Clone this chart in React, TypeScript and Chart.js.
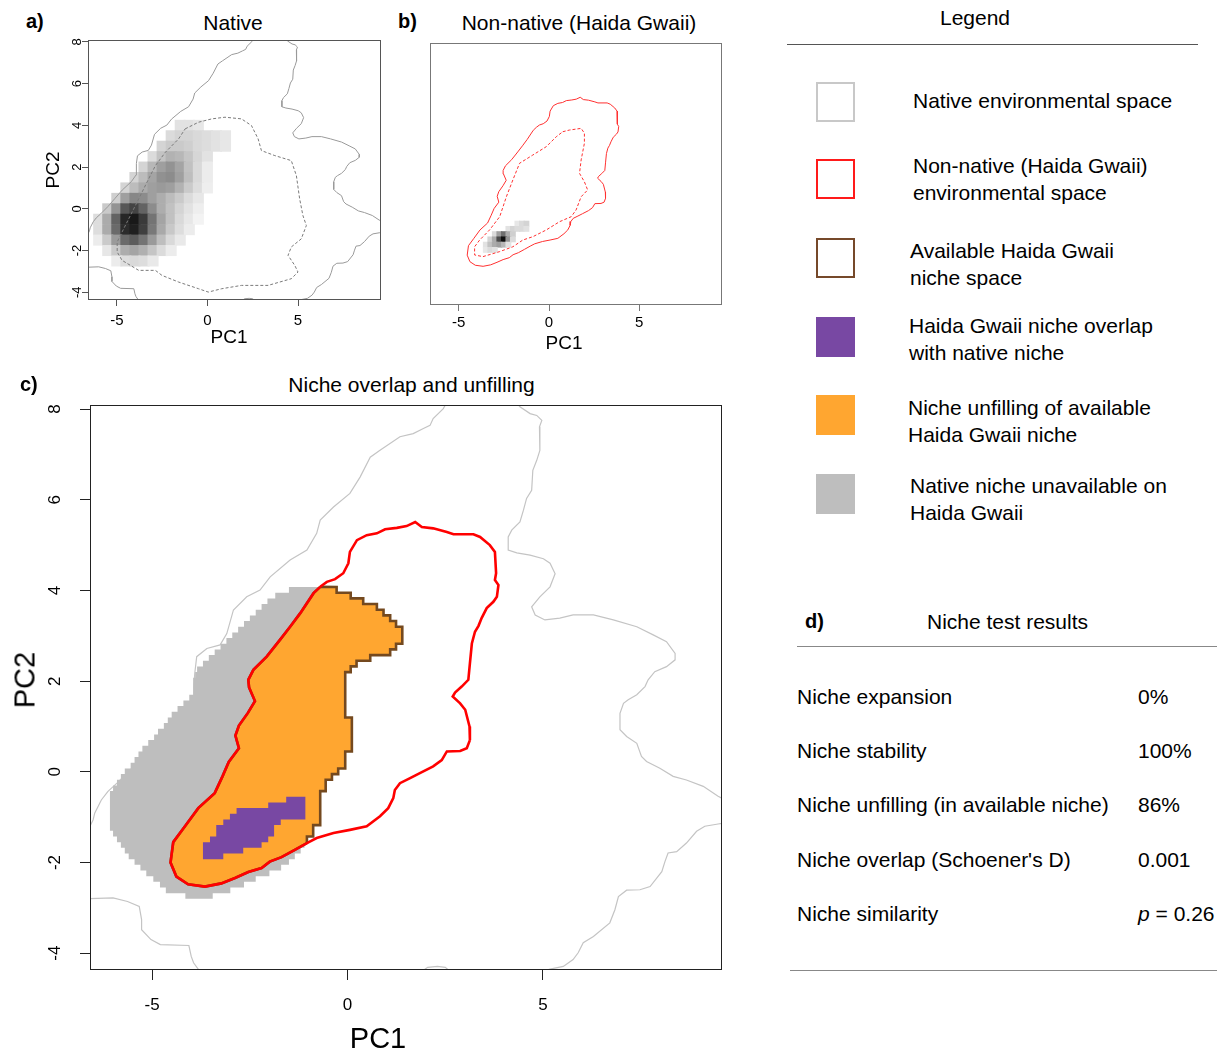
import React, { useEffect, useRef } from "react";
import { Chart, registerables } from "chart.js";

Chart.register(...registerables);

const FONT = "'Liberation Sans', Arial, Helvetica, sans-serif";

// ---------- axes ----------
const X_MIN = -6.59;
const X_MAX = 9.58;
const Y_MIN = -4.37;
const Y_MAX = 8.09;
const X_TICKS = [-5, 0, 5];
const Y_TICKS = [-4, -2, 0, 2, 4, 6, 8];

type Pt = [number, number];

// ---------- native environmental space (solid grey contour, 5 pieces) ----------
const NATIVE_ENV_A: Pt[] = [
  [-6.65, -1.3], [-6.51, -1.06], [-6.47, -0.91], [-6.3, -0.62], [-6.13, -0.43], [-5.9, -0.25],
  [-5.5, 0.1], [-5.1, 0.5], [-4.7, 0.9], [-4.2, 1.3], [-3.94, 1.62], [-3.93, 1.88], [-3.91, 2.17],
  [-3.86, 2.54], [-3.6, 2.72], [-3.26, 2.8], [-3.09, 3.05], [-2.92, 3.57], [-2.58, 3.86], [-2.24, 4.01],
  [-1.98, 4.3], [-1.47, 4.67], [-1.04, 4.89], [-0.79, 5.26], [-0.7, 5.55], [-0.36, 5.84], [0.06, 6.14],
  [0.32, 6.5], [0.58, 6.94], [0.83, 7.09], [1.34, 7.39], [1.68, 7.46], [1.94, 7.57], [2.11, 7.64],
  [2.19, 7.79], [2.45, 8.01], [2.52, 8.12],
];
const NATIVE_ENV_B: Pt[] = [
  [4.35, 8.12], [4.41, 8.05], [4.67, 7.9], [4.84, 7.86], [4.97, 7.75], [4.91, 7.61], [4.92, 7.09],
  [4.84, 6.87], [4.74, 6.65], [4.71, 6.21], [4.58, 6.03], [4.5, 5.77], [4.41, 5.51], [4.2, 5.33],
  [4.11, 5.18], [4.11, 4.89], [4.33, 4.83], [4.67, 4.78], [5.01, 4.7], [5.18, 4.6], [5.31, 4.37],
  [5.18, 4.08], [4.92, 3.86], [4.71, 3.64], [4.8, 3.46], [5.05, 3.35], [5.43, 3.39], [5.77, 3.46],
  [6.29, 3.46], [6.8, 3.35], [7.4, 3.2], [7.82, 3.02], [8.16, 2.87], [8.38, 2.61], [8.38, 2.47],
  [8.16, 2.32], [7.86, 2.21], [7.69, 2.03], [7.61, 1.88], [7.4, 1.7], [7.18, 1.59], [7.06, 1.51],
  [6.97, 1.29], [6.97, 0.93], [7.14, 0.78], [7.4, 0.63], [7.52, 0.34], [7.65, 0.23], [7.99, 0.08],
  [8.33, -0.1], [8.67, -0.18], [9.1, -0.32], [9.48, -0.54], [9.62, -0.6],
];
const NATIVE_ENV_C: Pt[] = [
  [9.62, -1.13], [9.48, -1.15], [9.14, -1.2], [8.93, -1.31], [8.67, -1.57], [8.42, -1.76], [8.2, -1.79],
  [8.12, -1.98], [8.04, -2.2], [7.74, -2.53], [7.48, -2.6], [7.14, -2.61], [6.93, -2.75], [6.84, -3.04],
  [6.71, -3.33], [6.29, -3.63], [6.03, -3.77], [5.9, -3.99], [5.77, -4.14], [5.52, -4.29], [5.18, -4.35],
  [5.0, -4.4],
];
const NATIVE_ENV_D: Pt[] = [[1.9, -4.4], [2.05, -4.31], [2.3, -4.29], [2.5, -4.31], [2.62, -4.4]];
const NATIVE_ENV_E: Pt[] = [
  [-6.65, -2.8], [-6.0, -2.78], [-5.63, -2.86], [-5.33, -2.97], [-5.27, -3.26], [-5.27, -3.48],
  [-5.03, -3.7], [-4.79, -3.81], [-4.06, -3.83], [-4.0, -4.07], [-3.94, -4.21], [-3.78, -4.4],
];
const NATIVE_ENV_PIECES = [NATIVE_ENV_A, NATIVE_ENV_B, NATIVE_ENV_C, NATIVE_ENV_D, NATIVE_ENV_E];

// ---------- native niche (dashed, panel a) ----------
const NATIVE_NICHE: Pt[] = [
  [-1.23, 3.83], [-0.49, 4.15], [0.24, 4.31], [0.97, 4.39], [1.88, 4.31], [2.43, 3.99], [2.8, 3.35],
  [2.98, 2.79], [3.72, 2.55], [4.63, 2.31], [4.91, 1.59], [5.09, 0.48], [5.27, -0.32], [5.46, -0.8],
  [5.18, -1.44], [4.63, -1.83], [4.45, -2.23], [4.82, -2.71], [5.0, -3.03], [4.63, -3.35], [3.35, -3.67],
  [1.88, -3.67], [0.79, -3.83], [0.05, -3.99], [-0.49, -3.83], [-1.59, -3.51], [-2.51, -3.19],
  [-2.87, -2.95], [-3.79, -2.95], [-4.25, -2.71], [-4.71, -2.47], [-4.98, -2.07], [-4.98, -1.59],
  [-4.71, -1.11], [-4.25, -0.32], [-3.79, 0.48], [-3.24, 1.44], [-2.87, 2.07], [-2.32, 2.71],
  [-1.59, 3.35], [-1.23, 3.83],
];

// ---------- non-native (Haida Gwaii) environmental space ----------
const NONNATIVE_ENV: Pt[] = [
  [-0.7, 4.08], [-0.53, 4.19], [-0.32, 4.25], [-0.11, 4.38], [0.02, 4.6], [0.06, 4.85], [0.24, 5.11],
  [0.49, 5.22], [0.75, 5.26], [0.96, 5.35], [1.26, 5.38], [1.51, 5.42], [1.73, 5.51], [1.9, 5.4],
  [2.19, 5.37], [2.54, 5.29], [2.71, 5.24], [3.22, 5.24], [3.39, 5.18], [3.64, 5.0], [3.77, 4.85],
  [3.8, 4.38], [3.77, 4.23], [3.86, 4.12], [3.82, 3.86], [3.73, 3.75], [3.56, 3.61], [3.43, 3.39],
  [3.35, 3.22], [3.26, 3.09], [3.18, 2.83], [3.13, 2.39], [3.09, 2.03], [2.92, 1.88], [2.75, 1.75],
  [2.69, 1.66], [2.88, 1.51], [3.01, 1.37], [3.12, 1.0], [3.13, 0.7], [3.05, 0.52], [2.88, 0.46],
  [2.54, 0.45], [2.41, 0.26], [2.19, 0.12], [1.85, -0.03], [1.6, -0.14], [1.34, -0.25], [1.21, -0.4],
  [1.17, -0.58], [1.04, -0.8], [0.83, -0.98], [0.49, -1.2], [0.06, -1.28], [-0.36, -1.35],
  [-0.79, -1.46], [-1.04, -1.57], [-1.35, -1.72], [-1.69, -1.88], [-1.99, -1.98], [-2.2, -2.12],
  [-2.54, -2.21], [-2.88, -2.34], [-3.23, -2.46], [-3.65, -2.53], [-4.08, -2.48], [-4.38, -2.31],
  [-4.53, -2.0], [-4.46, -1.55], [-4.16, -1.2], [-3.82, -0.8], [-3.4, -0.47], [-3.2, -0.1],
  [-3.04, 0.22], [-2.78, 0.52], [-2.87, 0.8], [-2.78, 1.02], [-2.55, 1.3], [-2.37, 1.56],
  [-2.52, 1.86], [-2.54, 2.03], [-2.41, 2.25], [-2.07, 2.54], [-1.73, 2.91], [-1.47, 3.2],
  [-1.21, 3.5], [-0.87, 3.94],
];
const NONNATIVE_NICHE: Pt[] = [
  [0.76, 3.87], [1.13, 3.95], [1.78, 4.03], [1.96, 3.8], [1.96, 3.32], [1.78, 2.53], [1.69, 1.89],
  [1.96, 1.49], [2.14, 1.1], [1.78, 0.78], [1.5, 0.15], [1.23, -0.17], [0.58, -0.41], [-0.15, -0.8],
  [-0.89, -1.12], [-1.45, -1.28], [-2.0, -1.6], [-2.73, -1.83], [-3.66, -2.07], [-4.12, -1.99],
  [-4.12, -1.6], [-3.84, -1.28], [-3.29, -0.8], [-2.73, -0.17], [-2.36, 0.78], [-2.0, 1.58],
  [-1.63, 2.37], [-0.9, 2.76], [-0.15, 3.16], [0.4, 3.63], [0.76, 3.87],
];

// ---------- raster rows of panel c (row j spans ROW_Y0 + j*ROW_DY .. +ROW_DY) ----------
const ROW_Y0 = -2.8;
const ROW_DY = 0.125;
// native niche unavailable (grey), rows 0..54
const GREY_LEFT = [
  -4.15, -4.65, -4.8, -4.97, -5.15, -5.3, -5.45, -5.6, -5.7, -5.8, -5.9, -6.0,
  -6.08, -6.08, -6.08, -6.08, -6.08, -6.08, -6.08,
  -6.0, -5.9, -5.8, -5.7, -5.55, -5.45, -5.35, -5.25, -5.1, -4.95,
  -4.85, -4.7, -4.6, -4.5, -4.35, -4.2, -4.05, -3.95, -3.95, -3.95,
  -3.9, -3.85, -3.7, -3.55, -3.4, -3.25, -3.1, -2.95, -2.8, -2.65,
  -2.5, -2.35, -2.2, -2.05, -1.85, -1.5,
];
const GREY_RIGHT_LOW = [-3.45, -3.0, -2.65, -2.35, -2.0, -1.7, -1.5, -1.35, -1.2, -1.1];
// available niche (orange), right edge of rows 10..54
const ORANGE_FIRST_ROW = 10;
const ORANGE_RIGHT = [
  -1.04, -0.88, -0.88, -0.7, -0.7, -0.7, -0.7, -0.7, -0.7, -0.56, -0.56, -0.4, -0.24,
  -0.06, -0.06, -0.06, 0.11, 0.11, 0.11, 0.11, 0.11, 0.11,
  -0.06, -0.06, -0.06, -0.06, -0.06, -0.06, -0.06, -0.06,
  0.08, 0.23, 0.58, 1.09, 1.24, 1.4, 1.4, 1.4, 1.24, 1.09, 0.92, 0.75, 0.4, 0.08, -0.28,
];
const GREY_RIGHT = [...GREY_RIGHT_LOW, ...ORANGE_RIGHT];
// overlap (purple), rows 7..17
const PURPLE_FIRST_ROW = 7;
const PURPLE_LEFT = [-3.7, -3.7, -3.7, -3.52, -3.36, -3.36, -3.18, -3.01, -2.84, -2.03, -1.57];
const PURPLE_RIGHT = [-3.18, -2.67, -2.2, -2.03, -1.88, -1.88, -1.71, -1.08, -1.08, -1.08, -1.08];

// ---------- occurrence density, panel a (darkness 0-100) ----------
const DENS_A_X = [-6, -5.5, -5, -4.5, -4, -3.5, -3, -2.5, -2, -1.5, -1, -0.5, 0, 0.5, 1, 1.5];
const DENS_A_Y = [4, 3.5, 3, 2.5, 2, 1.5, 1, 0.5, 0, -0.5, -1, -1.5, -2, -2.5];
const DENS_A = [
  [0, 0, 0, 0, 0, 0, 0, 0, 0, 12, 12, 10, 0, 0, 0, 0],
  [0, 0, 0, 0, 0, 0, 0, 0, 15, 18, 18, 16, 14, 12, 10, 0],
  [0, 0, 0, 0, 0, 0, 0, 18, 22, 22, 20, 16, 14, 12, 10, 0],
  [0, 0, 0, 0, 0, 0, 15, 25, 32, 30, 24, 17, 12, 0, 0, 0],
  [0, 0, 0, 0, 0, 18, 30, 40, 45, 38, 26, 16, 8, 0, 0, 0],
  [0, 0, 0, 0, 18, 28, 38, 46, 48, 40, 27, 16, 8, 0, 0, 0],
  [0, 0, 0, 18, 28, 35, 40, 42, 40, 32, 22, 14, 7, 0, 0, 0],
  [0, 0, 20, 40, 50, 48, 40, 34, 28, 22, 15, 10, 0, 0, 0, 0],
  [0, 22, 45, 70, 78, 65, 48, 34, 26, 18, 12, 7, 0, 0, 0, 0],
  [14, 35, 65, 90, 96, 82, 58, 38, 26, 16, 10, 5, 0, 0, 0, 0],
  [14, 35, 62, 88, 93, 80, 56, 36, 23, 14, 8, 0, 0, 0, 0, 0],
  [8, 22, 42, 62, 68, 58, 42, 27, 16, 9, 0, 0, 0, 0, 0, 0],
  [0, 10, 22, 34, 38, 33, 24, 15, 8, 0, 0, 0, 0, 0, 0, 0],
  [0, 0, 8, 14, 16, 14, 9, 0, 0, 0, 0, 0, 0, 0, 0, 0],
];
const DENS_A_STEP = 0.5;

// ---------- occurrence density, panel b: [x, y, darkness] ----------
const DENS_B: [number, number, number][] = [
  [-1.75, -0.5, 10], [-1.5, -0.5, 15], [-1.25, -0.5, 18],
  [-2.25, -0.75, 12], [-2.0, -0.75, 18], [-1.75, -0.75, 15], [-1.5, -0.75, 15], [-1.25, -0.75, 12],
  [-3.0, -1.0, 15], [-2.75, -1.0, 40], [-2.5, -1.0, 60], [-2.25, -1.0, 35], [-2.0, -1.0, 20],
  [-3.25, -1.25, 18], [-3.0, -1.25, 35], [-2.75, -1.25, 75], [-2.5, -1.25, 100], [-2.25, -1.25, 45], [-2.0, -1.25, 15],
  [-3.5, -1.5, 12], [-3.25, -1.5, 25], [-3.0, -1.5, 35], [-2.75, -1.5, 40], [-2.5, -1.5, 30], [-2.25, -1.5, 12],
  [-3.5, -1.75, 10], [-3.25, -1.75, 15], [-3.0, -1.75, 12],
];
const DENS_B_STEP = 0.25;

// ---------- legend & results ----------
const LEGEND_ITEMS = [
  { lines: ["Native environmental space"], kind: "outline", color: "#c8c8c8" },
  { lines: ["Non-native (Haida Gwaii)", "environmental space"], kind: "outline", color: "#ff1a1a" },
  { lines: ["Available Haida Gwaii", "niche space"], kind: "outline", color: "#76492a" },
  { lines: ["Haida Gwaii niche overlap", "with native niche"], kind: "fill", color: "#7848a3" },
  { lines: ["Niche unfilling of available", "Haida Gwaii niche"], kind: "fill", color: "#ffa630" },
  { lines: ["Native niche unavailable on", "Haida Gwaii"], kind: "fill", color: "#bebebe" },
];
const RESULT_LABELS = [
  "Niche expansion",
  "Niche stability",
  "Niche unfilling (in available niche)",
  "Niche overlap (Schoener's D)",
  "Niche similarity",
];
const RESULT_VALUES = ["0%", "100%", "86%", "0.001", "0.26"];

// ---------- helpers ----------
const toXY = (arr: Pt[]) => arr.map(([x, y]) => ({ x, y }));
const rowY = (j: number) => ROW_Y0 + j * ROW_DY;

function stepPolygon(first: number, left: number[], right: number[]) {
  const n = left.length;
  const pts: { x: number; y: number }[] = [];
  for (let k = n - 1; k >= 0; k--) {
    pts.push({ x: right[k], y: rowY(first + k + 1) });
    pts.push({ x: right[k], y: rowY(first + k) });
  }
  for (let k = 0; k < n; k++) {
    pts.push({ x: left[k], y: rowY(first + k) });
    pts.push({ x: left[k], y: rowY(first + k + 1) });
  }
  pts.push(pts[0]);
  return pts;
}

function orangePolygon() {
  const n = ORANGE_RIGHT.length;
  const pts: { x: number; y: number }[] = [{ x: NONNATIVE_ENV[0][0], y: NONNATIVE_ENV[0][1] }];
  for (let k = n - 1; k >= 0; k--) {
    pts.push({ x: ORANGE_RIGHT[k], y: rowY(ORANGE_FIRST_ROW + k + 1) });
    pts.push({ x: ORANGE_RIGHT[k], y: rowY(ORANGE_FIRST_ROW + k) });
  }
  const join = NONNATIVE_ENV.findIndex(([, y]) => y <= rowY(ORANGE_FIRST_ROW));
  for (let i = join; i < NONNATIVE_ENV.length; i++) pts.push({ x: NONNATIVE_ENV[i][0], y: NONNATIVE_ENV[i][1] });
  pts.push(pts[0]);
  return pts;
}

const shade = (v: number) => {
  const g = Math.round(255 - v * 2.4);
  return `rgb(${g},${g},${g})`;
};

const lineDs = (data: any[], color: string, width: number, order: number, dash: number[] = []) => ({
  data,
  showLine: true,
  borderColor: color,
  borderWidth: width,
  borderDash: dash,
  pointRadius: 0,
  pointHoverRadius: 0,
  fill: false,
  tension: 0,
  order,
});

const polyDs = (data: any[], fillColor: string, border: string, width: number, order: number) => ({
  data,
  showLine: true,
  backgroundColor: fillColor,
  borderColor: border,
  borderWidth: width,
  pointRadius: 0,
  pointHoverRadius: 0,
  fill: "shape",
  tension: 0,
  order,
});

const cellDs = (cells: { x: number; y: number; v: number }[], step: number, order: number) => ({
  data: cells,
  showLine: false,
  pointStyle: "rect",
  pointBorderWidth: 0,
  pointBorderColor: "rgba(0,0,0,0)",
  pointHoverRadius: 0,
  pointRadius: (c: any) => {
    const s = c.chart.scales;
    if (!s || !s.x || !s.y) return 3;
    const w = Math.abs(s.x.getPixelForValue(step) - s.x.getPixelForValue(0));
    const h = Math.abs(s.y.getPixelForValue(step) - s.y.getPixelForValue(0));
    return (Math.max(w, h) + 0.6) / Math.SQRT2;
  },
  pointBackgroundColor: (c: any) => (c.raw ? shade(c.raw.v) : "#fff"),
  order,
});

function densACells() {
  const out: { x: number; y: number; v: number }[] = [];
  DENS_A.forEach((row, r) =>
    row.forEach((v, c) => {
      if (v > 0) out.push({ x: DENS_A_X[c], y: DENS_A_Y[r], v });
    })
  );
  return out;
}

// ---------- panel ----------
interface Spec {
  box: { l: number; t: number; r: number; b: number };
  yw: number;
  xh: number;
  tickLen: number;
  xTickFont: number;
  xTickPad: number;
  yTickFont?: number;
  yLabelOffset?: number;
  frameColor: string;
  datasets: () => any[];
}

const PAD = 6;

function Panel({ spec }: { spec: Spec }) {
  const ref = useRef<HTMLCanvasElement | null>(null);
  const { box, yw, xh } = spec;
  const cl = box.l - (yw > 0 ? yw : PAD);
  const ct = box.t - PAD;
  const cw = box.r - cl + PAD;
  const ch = box.b - ct + xh;

  useEffect(() => {
    const canvas = ref.current;
    if (!canvas) return;
    const frame = {
      id: "rframe",
      afterDatasetsDraw(chart: any) {
        const { ctx, chartArea: a } = chart;
        ctx.save();
        ctx.strokeStyle = spec.frameColor;
        ctx.lineWidth = 1;
        const l = Math.round(a.left) + 0.5;
        const t = Math.round(a.top) + 0.5;
        ctx.strokeRect(l, t, Math.round(a.right) - Math.round(a.left) - 1, Math.round(a.bottom) - Math.round(a.top) - 1);
        ctx.restore();
      },
      afterDraw(chart: any) {
        if (!spec.yTickFont) return;
        const ys = chart.scales.y;
        const a = chart.chartArea;
        const ctx = chart.ctx;
        ctx.save();
        ctx.fillStyle = "#000";
        ctx.font = `${spec.yTickFont}px ${FONT}`;
        ctx.textAlign = "center";
        ctx.textBaseline = "middle";
        for (const t of ys.ticks) {
          const py = ys.getPixelForValue(t.value);
          ctx.save();
          ctx.translate(a.left - (spec.yLabelOffset || 10), py);
          ctx.rotate(-Math.PI / 2);
          ctx.fillText(String(t.value), 0, 0);
          ctx.restore();
        }
        ctx.restore();
      },
    };
    const chart = new Chart(canvas, {
      type: "scatter",
      data: { datasets: spec.datasets() },
      options: {
        responsive: false,
        animation: false,
        events: [],
        layout: { padding: { left: yw > 0 ? 0 : PAD, top: PAD, right: PAD, bottom: 0 } },
        plugins: { legend: { display: false }, tooltip: { enabled: false }, title: { display: false } },
        scales: {
          x: {
            type: "linear",
            min: X_MIN,
            max: X_MAX,
            afterBuildTicks: (s: any) => {
              s.ticks = X_TICKS.map((value) => ({ value }));
            },
            afterFit: (s: any) => {
              s.height = xh;
            },
            grid: { display: true, drawOnChartArea: false, drawTicks: true, tickLength: spec.tickLen, color: spec.frameColor },
            border: { display: false },
            ticks: { font: { family: FONT, size: spec.xTickFont }, color: "#000", padding: spec.xTickPad, maxRotation: 0, autoSkip: false },
          },
          y: {
            type: "linear",
            display: yw > 0,
            min: Y_MIN,
            max: Y_MAX,
            afterBuildTicks: (s: any) => {
              s.ticks = Y_TICKS.map((value) => ({ value }));
            },
            afterFit: (s: any) => {
              s.width = yw;
            },
            grid: { display: true, drawOnChartArea: false, drawTicks: true, tickLength: spec.tickLen, color: spec.frameColor },
            border: { display: false },
            ticks: { display: false },
          },
        },
      } as any,
      plugins: [frame],
    } as any);
    return () => chart.destroy();
  }, []);

  return <canvas ref={ref} width={cw} height={ch} style={{ position: "absolute", left: cl, top: ct, width: cw, height: ch }} />;
}

const specA: Spec = {
  box: { l: 88, t: 40, r: 381, b: 300 },
  yw: 45,
  xh: 45,
  tickLen: 6,
  xTickFont: 15,
  xTickPad: 6,
  yTickFont: 13,
  yLabelOffset: 11,
  frameColor: "#555",
  datasets: () => [
    lineDs(toXY(NATIVE_NICHE), "#7a7a7a", 1, 0, [3, 2]),
    ...NATIVE_ENV_PIECES.map((p) => lineDs(toXY(p), "#9a9a9a", 1, 1)),
    cellDs(densACells(), DENS_A_STEP, 3),
  ],
};

const specB: Spec = {
  box: { l: 430, t: 43, r: 722, b: 305 },
  yw: 0,
  xh: 45,
  tickLen: 6,
  xTickFont: 15,
  xTickPad: 3,
  frameColor: "#777",
  datasets: () => [
    lineDs(toXY(NONNATIVE_ENV).concat([{ x: NONNATIVE_ENV[0][0], y: NONNATIVE_ENV[0][1] }]), "#ff3030", 1, 0),
    lineDs(toXY(NONNATIVE_NICHE), "#ff3030", 1, 0, [3, 2]),
    cellDs(DENS_B.map(([x, y, v]) => ({ x, y, v })), DENS_B_STEP, 3),
  ],
};

const specC: Spec = {
  box: { l: 90, t: 405, r: 722, b: 970 },
  yw: 70,
  xh: 60,
  tickLen: 10,
  xTickFont: 17,
  xTickPad: 15,
  yTickFont: 17,
  yLabelOffset: 35,
  frameColor: "#222",
  datasets: () => [
    lineDs(toXY(NONNATIVE_ENV).concat([{ x: NONNATIVE_ENV[0][0], y: NONNATIVE_ENV[0][1] }]), "#ff0000", 2.6, 0),
    polyDs(stepPolygon(PURPLE_FIRST_ROW, PURPLE_LEFT, PURPLE_RIGHT), "#7848a3", "rgba(0,0,0,0)", 0.01, 1),
    polyDs(orangePolygon(), "#ffa630", "#74491f", 2.6, 2),
    polyDs(stepPolygon(0, GREY_LEFT, GREY_RIGHT), "#bebebe", "rgba(0,0,0,0)", 0.01, 3),
    ...NATIVE_ENV_PIECES.map((p) => lineDs(toXY(p), "#c4c4c4", 1.2, 4)),
  ],
};

// ---------- text helpers (y = cap top) ----------
function T({ x, y, s, b, c, children }: any) {
  return (
    <div
      style={{
        position: "absolute",
        left: x,
        top: y - 0.13 * s,
        fontSize: s,
        lineHeight: 1,
        fontWeight: b ? "bold" : "normal",
        whiteSpace: "nowrap",
        transform: c ? "translateX(-50%)" : undefined,
      }}
    >
      {children}
    </div>
  );
}

function R({ cx, cy, s, children }: any) {
  return (
    <div
      style={{
        position: "absolute",
        left: cx,
        top: cy,
        fontSize: s,
        lineHeight: 1,
        whiteSpace: "nowrap",
        transform: "translate(-50%,-50%) rotate(-90deg)",
      }}
    >
      {children}
    </div>
  );
}

function HLine({ x, y, w, color }: any) {
  return <div style={{ position: "absolute", left: x, top: y, width: w, height: 1, background: color }} />;
}

const LEGEND_BOX_TOPS = [82, 159, 238, 317, 395, 474];
const LEGEND_TEXT_TOPS = [93, 158, 243, 318, 400, 478];
const LEGEND_TEXT_X = [913, 913, 910, 909, 908, 910];
const RESULT_TOPS = [689, 743, 797, 851.5, 905.5];

export default function App() {
  return (
    <div style={{ position: "absolute", left: 0, top: 0, width: 1217, height: 1053, background: "#fff", fontFamily: FONT, color: "#000", overflow: "hidden" }}>
      <Panel spec={specA} />
      <Panel spec={specB} />
      <Panel spec={specC} />

      <T x={26} y={14} s={20} b>a)</T>
      <T x={233} y={15} s={21} c>Native</T>
      <R cx={51.5} cy={170} s={19}>PC2</R>
      <T x={229} y={329} s={19} c>PC1</T>

      <T x={398} y={14} s={20} b>b)</T>
      <T x={579} y={15} s={21} c>Non-native (Haida Gwaii)</T>
      <T x={564} y={335} s={19} c>PC1</T>

      <T x={20} y={377} s={20} b>c)</T>
      <T x={411.5} y={377} s={21} c>Niche overlap and unfilling</T>
      <R cx={25} cy={680} s={29}>PC2</R>
      <T x={378} y={1028} s={29} c>PC1</T>

      <T x={975} y={10} s={21} c>Legend</T>
      <HLine x={787} y={44} w={411} color="#555" />
      {LEGEND_ITEMS.map((it, i) => (
        <React.Fragment key={i}>
          <div
            style={{
              position: "absolute",
              left: 816,
              top: LEGEND_BOX_TOPS[i],
              width: 39,
              height: 40,
              boxSizing: "border-box",
              border: it.kind === "outline" ? `2px solid ${it.color}` : `1px solid ${it.color}`,
              background: it.kind === "fill" ? it.color : "#fff",
            }}
          />
          {it.lines.map((ln, k) => (
            <T key={k} x={LEGEND_TEXT_X[i]} y={LEGEND_TEXT_TOPS[i] + k * 27} s={21}>
              {ln}
            </T>
          ))}
        </React.Fragment>
      ))}

      <T x={805} y={613.5} s={20} b>d)</T>
      <T x={1007.5} y={613.5} s={21} c>Niche test results</T>
      <HLine x={797} y={646} w={420} color="#888" />
      {RESULT_LABELS.map((lab, i) => (
        <React.Fragment key={i}>
          <T x={797} y={RESULT_TOPS[i]} s={21}>{lab}</T>
          <T x={1138} y={RESULT_TOPS[i]} s={21}>
            {i === 4 ? (
              <>
                <i>p</i> = {RESULT_VALUES[i]}
              </>
            ) : (
              RESULT_VALUES[i]
            )}
          </T>
        </React.Fragment>
      ))}
      <HLine x={790} y={970} w={427} color="#888" />
    </div>
  );
}
